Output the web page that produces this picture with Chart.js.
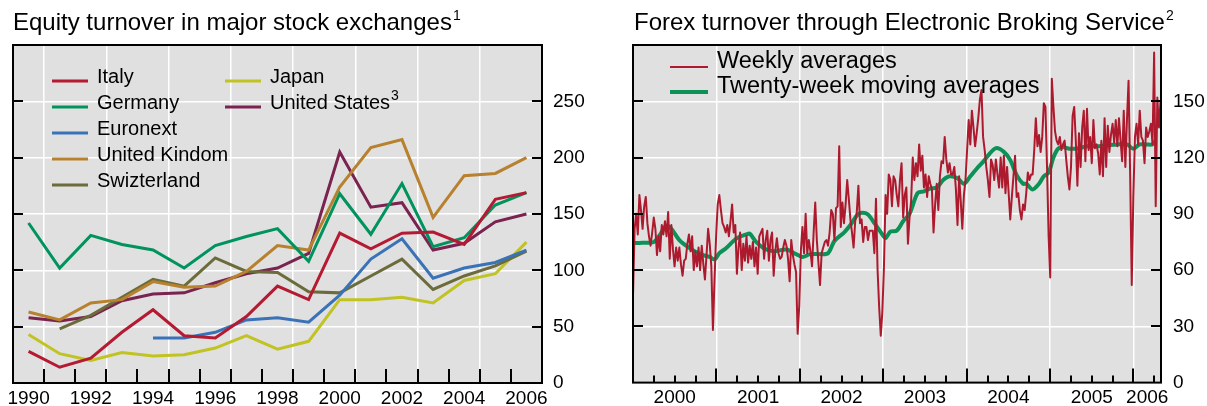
<!DOCTYPE html>
<html>
<head>
<meta charset="utf-8">
<script src="https://cdn.jsdelivr.net/npm/chart.js@4.4.0/dist/chart.umd.min.js"></script>
<style>
  body { margin: 0; background: #fff; width: 1207px; height: 406px; overflow: hidden; }
  .panel { position: absolute; top: 0; height: 406px; }
</style>
</head>
<body>
<div class="panel" style="left:0;width:605px"><canvas id="equityChart" width="605" height="406"></canvas></div>
<div class="panel" style="left:620px;width:587px"><canvas id="forexChart" width="587" height="406"></canvas></div>
<script>
// Left panel: equity turnover, annual
const years = ['1990', '1991', '1992', '1993', '1994', '1995', '1996', '1997', '1998',
    '1999', '2000', '2001', '2002', '2003', '2004', '2005', '2006'];
const italy = [28, 14, 22, 45, 65, 42, 40, 59, 86, 74, 133, 119, 133, 134, 123, 163, 169];
const germany = [142, 102, 131, 123, 118, 102, 122, 130, 137, 108, 168, 132, 177, 121, 129, 158, 169];
const euronext = [null, null, null, null, 40, 40, 45, 56, 58, 54, 78, 110, 128, 93, 102, 107, 118];
const unitedKingdom = [63, 56, 71, 74, 90, 85, 86, 99, 122, 118, 174, 209, 216, 147, 184, 186, 200];
const switzerland = [null, 48, 60, 76, 92, 86, 111, 99, 98, 81, 80, 95, 110, 83, 95, 104, 117];
const japan = [43, 26, 20, 27, 24, 25, 31, 42, 30, 37, 74, 74, 76, 71, 91, 97, 125];
const unitedStates = [58, 55, 59, 73, 79, 80, 89, 97, 102, 115, 205, 156, 160, 118, 124, 143, 150];
const equityTicks = [0, 50, 100, 150, 200, 250];

// Right panel: EBS forex turnover, weekly from start of 2000
const startYear = 2000;
const weeksPerYear = 52.18;
const weekly = [
    46, 82, 90, 79, 100, 92, 82, 94, 99, 85, 78, 73, 80, 88, 82, 68, 78, 70, 84, 79,
    86, 78, 91, 66, 84, 71, 62, 72, 65, 72, 63, 57, 65, 66, 74, 79, 70, 78, 60, 70,
    62, 72, 60, 73, 63, 55, 68, 82, 74, 62, 28, 55, 78, 95, 100, 92, 85, 83, 80, 84,
    78, 86, 95, 80, 84, 58, 72, 80, 60, 74, 65, 78, 64, 73, 66, 75, 62, 72, 58, 78,
    80, 82, 66, 76, 81, 65, 76, 80, 57, 70, 77, 69, 66, 67, 72, 76, 73, 66, 54, 76,
    68, 63, 59, 26, 41, 70, 83, 69, 90, 69, 76, 70, 62, 80, 96, 76, 64, 52, 69, 72,
    75, 76, 73, 80, 92, 90, 76, 93, 94, 126, 83, 96, 85, 95, 108, 98, 87, 80, 72, 86,
    91, 105, 85, 87, 75, 83, 83, 76, 81, 81, 81, 69, 98, 60, 40, 25, 38, 62, 100, 90,
    111, 108, 94, 110, 108, 100, 94, 108, 117, 88, 100, 104, 74, 88, 97, 120, 108, 117, 110, 127,
    113, 121, 104, 111, 99, 110, 106, 103, 80, 95, 106, 92, 110, 118, 117, 131, 119, 112, 117, 111,
    111, 115, 103, 84, 110, 97, 82, 100, 108, 124, 140, 127, 145, 136, 126, 133, 141, 151, 156, 131,
    124, 115, 108, 99, 119, 116, 108, 119, 111, 104, 120, 104, 121, 101, 115, 101, 87, 99, 110, 121,
    99, 101, 92, 87, 95, 92, 101, 112, 108, 111, 111, 124, 141, 126, 132, 123, 131, 149, 147, 115,
    78, 56, 162, 147, 134, 129, 127, 131, 124, 127, 129, 119, 110, 103, 115, 142, 147, 129, 105, 133,
    115, 136, 145, 118, 146, 124, 131, 117, 140, 125, 127, 122, 111, 129, 110, 141, 115, 137, 123, 132,
    138, 128, 140, 126, 141, 129, 118, 145, 115, 140, 161, 111, 52, 99, 131, 138, 127, 145, 131, 129,
    117, 136, 131, 134, 138, 127, 176, 94, 152, 136, 150
];
const maWeeks = [0, 6, 13, 17, 20, 23, 29, 35, 42, 48, 51, 54, 58, 65, 71, 73, 77, 82, 88, 96,
    102, 106, 111, 117, 122, 126, 132, 136, 140, 143, 147, 151, 156, 158, 161, 165, 169, 173, 178, 182,
    186, 190, 194, 198, 203, 207, 211, 215, 219, 223, 227, 232, 236, 240, 244, 246, 250, 254, 257, 260,
    263, 266, 269, 273, 279, 284, 290, 296, 303, 309, 313, 317, 321, 325, 327];
const maValues = [74.5, 74.5, 75, 79, 83, 83, 76, 72, 68.5, 67, 65.6, 69, 71.5, 77, 79, 79.4, 75, 71.5, 70, 71,
    68.5, 67, 68.5, 68.5, 69, 75.5, 80, 84, 89, 90.5, 89.6, 85, 79, 77, 80.5, 81, 86, 90, 101, 102,
    103.5, 104, 108, 110, 109, 106, 110, 114, 117.7, 122, 125, 123, 118.6, 110.6, 106, 106, 103, 106, 110, 112,
    120, 124.7, 125.6, 124.7, 125, 126, 126, 126.5, 127, 127, 124.7, 127, 127, 127, 129];
const forexTicks = [0, 30, 60, 90, 120, 150];
const forexYears = ['2000', '2001', '2002', '2003', '2004', '2005', '2006'];

const FONT = '"Liberation Sans", Arial, Helvetica, sans-serif';
const CLEAR = 'rgba(0,0,0,0)';

// Background, frame, inward tick marks, title and legend
const decor = {
    id: 'decor',
    beforeDraw(chart) {
        const { ctx, chartArea: a } = chart;
        ctx.save();
        ctx.fillStyle = '#e0e0e0';
        ctx.fillRect(a.left, a.top, a.right - a.left, a.bottom - a.top);
        ctx.restore();
    },
    afterDraw(chart, args, o) {
        const { ctx, chartArea: a } = chart;
        const xs = chart.scales.x, ys = chart.scales.y;
        ctx.save();
        ctx.strokeStyle = '#000';
        ctx.lineWidth = 2;
        ctx.beginPath();
        ys.ticks.forEach(t => {
            if (t.value <= ys.min || t.value >= ys.max) return;
            const py = Math.round(ys.getPixelForValue(t.value));
            ctx.moveTo(a.left, py); ctx.lineTo(a.left + 10, py);
            ctx.moveTo(a.right - 10, py); ctx.lineTo(a.right, py);
        });
        o.xMarks(xs).forEach(m => {
            ctx.moveTo(Math.round(m.px), a.bottom); ctx.lineTo(Math.round(m.px), a.bottom - m.len);
        });
        ctx.stroke();
        ctx.strokeRect(a.left, a.top, a.right - a.left, a.bottom - a.top);

        ctx.fillStyle = '#000';
        ctx.textBaseline = 'alphabetic';
        ctx.font = o.titleFont;
        ctx.fillText(o.title, o.titleX, o.titleY);
        const tw = ctx.measureText(o.title).width;
        ctx.font = o.supFont;
        ctx.fillText(o.titleSup, o.titleX + tw + 1, o.titleY - 10);

        chart.data.datasets.forEach((ds, i) => {
            const p = o.legendAt[i];
            ctx.strokeStyle = ds.borderColor;
            ctx.lineWidth = ds.borderWidth;
            ctx.lineCap = 'butt';
            ctx.beginPath();
            ctx.moveTo(p[0], p[1]);
            ctx.lineTo(p[0] + o.keyLen, p[1]);
            ctx.stroke();
            ctx.font = o.legendFont;
            ctx.fillText(ds.label, p[0] + o.textGap, p[1] + o.textDy);
            if (ds.sup) {
                const lw = ctx.measureText(ds.label).width;
                ctx.font = o.supFont;
                ctx.fillText(ds.sup, p[0] + o.textGap + lw + 1, p[1] + o.textDy - 9);
            }
        });
        ctx.restore();
    }
};

function series(label, values, color) {
    return { label: label, data: values, borderColor: color, backgroundColor: color,
        borderWidth: 3, pointRadius: 0, tension: 0, spanGaps: false };
}

// Left chart
new Chart(document.getElementById('equityChart'), {
    type: 'line',
    data: {
        labels: years,
        datasets: [
            series('Italy', italy, '#b41b33'),
            series('Germany', germany, '#00935d'),
            series('Euronext', euronext, '#3a72b8'),
            series('United Kindom', unitedKingdom, '#b7812e'),
            series('Swizterland', switzerland, '#6b6b3b'),
            series('Japan', japan, '#c0c321'),
            Object.assign(series('United States', unitedStates, '#7a2350'), { sup: '3' })
        ]
    },
    options: {
        responsive: false,
        animation: false,
        layout: { padding: { left: 13, top: 45, right: 0, bottom: 0 } },
        scales: {
            x: {
                offset: true,
                afterFit: s => { s.height = 23; },
                grid: { offset: true, drawTicks: false, lineWidth: 1.5,
                    color: c => (c.index % 2 === 1 ? '#ffffff' : CLEAR) },
                border: { display: false },
                ticks: { autoSkip: false, maxRotation: 0, padding: 4, color: '#000',
                    font: { family: FONT, size: 19 },
                    callback: (v, i) => (i % 2 === 0 ? years[i] : '') }
            },
            y: {
                position: 'right',
                min: 0, max: 300,
                afterFit: s => { s.width = 63; },
                afterBuildTicks: s => { s.ticks = equityTicks.concat([300]).map(v => ({ value: v })); },
                grid: { drawTicks: false, color: '#ffffff', lineWidth: 1.5 },
                border: { display: false },
                ticks: { padding: 11, color: '#000', font: { family: FONT, size: 19 },
                    callback: v => (equityTicks.includes(v) ? v : '') }
            }
        },
        plugins: {
            legend: { display: false },
            tooltip: { enabled: false },
            decor: {
                title: 'Equity turnover in major stock exchanges', titleSup: '1',
                titleX: 13, titleY: 30,
                titleFont: '24px ' + FONT, supFont: '14px ' + FONT, legendFont: '20px ' + FONT,
                legendAt: [[52, 81], [52, 107], [52, 133], [52, 159], [52, 185], [225, 81], [225, 107]],
                keyLen: 36, textGap: 45, textDy: 2,
                xMarks: xs => {
                    const marks = [];
                    for (let i = 1; i < years.length; i++) {
                        marks.push({ px: (xs.getPixelForValue(i) + xs.getPixelForValue(i - 1)) / 2, len: 14 });
                    }
                    return marks;
                }
            }
        }
    },
    plugins: [decor]
});

// Right chart
const forexLabelAt = forexYears.map((y, i) => (i < forexYears.length - 1 ? +y + 0.5 : +y + 0.165));
new Chart(document.getElementById('forexChart'), {
    type: 'line',
    data: {
        datasets: [
            { label: 'Weekly averages', borderColor: '#ad1a2d', borderWidth: 2, pointRadius: 0,
              borderJoinStyle: 'round',
              data: weekly.map((v, i) => ({ x: startYear + i / weeksPerYear, y: v })) },
            { label: 'Twenty-week moving averages', borderColor: '#0c9157', borderWidth: 4, pointRadius: 0,
              tension: 0.3, borderJoinStyle: 'round',
              data: maWeeks.map((w, i) => ({ x: startYear + w / weeksPerYear, y: maValues[i] })) }
        ]
    },
    options: {
        responsive: false,
        animation: false,
        layout: { padding: { left: 13, top: 45, right: 0, bottom: 0 } },
        scales: {
            x: {
                type: 'linear',
                min: 2000, max: 2006.33,
                afterFit: s => { s.height = 23; },
                afterBuildTicks: s => {
                    const vals = [];
                    for (let y = 2001; y <= 2006; y++) vals.push(y);
                    s.ticks = vals.concat(forexLabelAt).sort((a, b) => a - b).map(v => ({ value: v }));
                },
                grid: { drawTicks: false, lineWidth: 1.5,
                    color: c => (c.tick && Number.isInteger(c.tick.value) ? '#ffffff' : CLEAR) },
                border: { display: false },
                ticks: { autoSkip: false, maxRotation: 0, padding: 4, color: '#000',
                    font: { family: FONT, size: 19 },
                    callback: v => (Number.isInteger(v) ? '' : String(Math.floor(v))) }
            },
            y: {
                position: 'right',
                min: 0, max: 180,
                afterFit: s => { s.width = 46; },
                afterBuildTicks: s => { s.ticks = forexTicks.concat([180]).map(v => ({ value: v })); },
                grid: { drawTicks: false, color: '#ffffff', lineWidth: 1.5 },
                border: { display: false },
                ticks: { padding: 12, color: '#000', font: { family: FONT, size: 19 },
                    callback: v => (forexTicks.includes(v) ? v : '') }
            }
        },
        plugins: {
            legend: { display: false },
            tooltip: { enabled: false },
            decor: {
                title: 'Forex turnover through Electronic Broking Service', titleSup: '2',
                titleX: 14, titleY: 30,
                titleFont: '24px ' + FONT, supFont: '14px ' + FONT, legendFont: '23.5px ' + FONT,
                legendAt: [[50, 67], [50, 92]],
                keyLen: 38, textGap: 47, textDy: 1,
                xMarks: xs => {
                    const marks = [];
                    for (let q = 1; q <= 25; q++) {
                        const v = 2000 + q * 0.25;
                        marks.push({ px: xs.getPixelForValue(v), len: q % 4 === 0 ? 14 : 7 });
                    }
                    return marks;
                }
            }
        }
    },
    plugins: [decor]
});
</script>
</body>
</html>
